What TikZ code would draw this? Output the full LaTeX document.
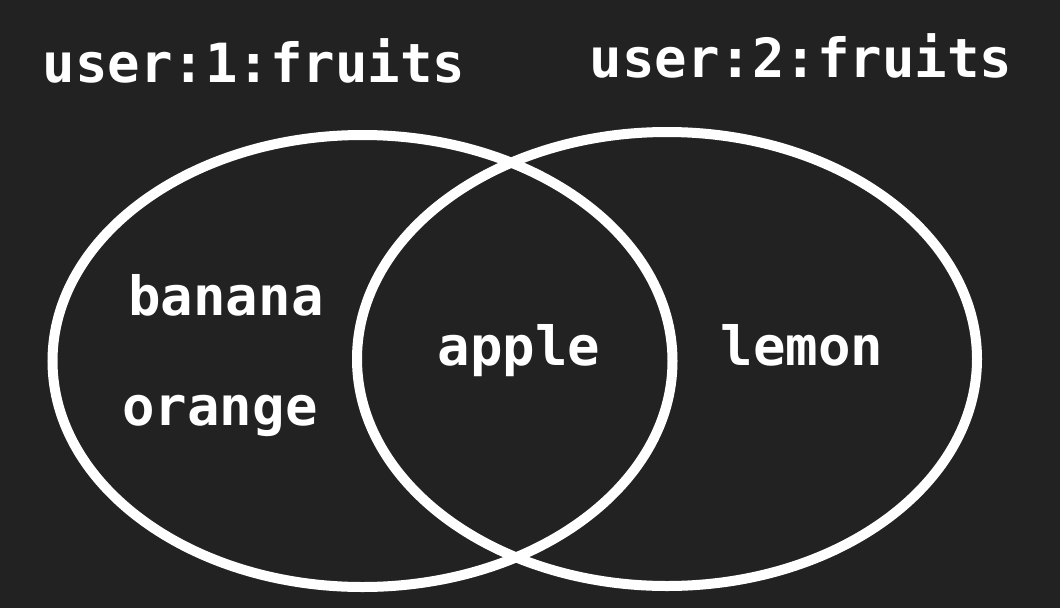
\documentclass[tikz,border=0pt]{standalone}
\usepackage{fontspec}
\setmonofont{DejaVu Sans Mono}
\usetikzlibrary{shapes.geometric}
\definecolor{bg}{HTML}{222222}
\tikzset{
  setshape/.style={draw=white, line width=10pt, ellipse, inner sep=0pt, outer sep=0pt},
  lbl/.style={text=white, font=\ttfamily\bfseries\fontsize{54}{60}\selectfont, anchor=base, inner sep=0pt}
}
\begin{document}
\begin{tikzpicture}[x=1pt,y=-1pt]
\fill[bg] (0,0) rectangle (1060,608);
\useasboundingbox (0,0) rectangle (1060,608);
\node[setshape, minimum width=620pt, minimum height=452pt] (setA) at (362.5,361) {};
\node[setshape, minimum width=620pt, minimum height=454pt] (setB) at (667,359) {};
\node[lbl] (nameA) at (254,82) {user:1:fruits};
\node[lbl] (nameB) at (801,77) {user:2:fruits};
\node[lbl] (banana) at (226,315) {banana};
\node[lbl] (orange) at (220,425) {orange};
\node[lbl] (apple) at (519,365) {apple};
\node[lbl] (lemon) at (802,365) {lemon};
\end{tikzpicture}
\end{document}
